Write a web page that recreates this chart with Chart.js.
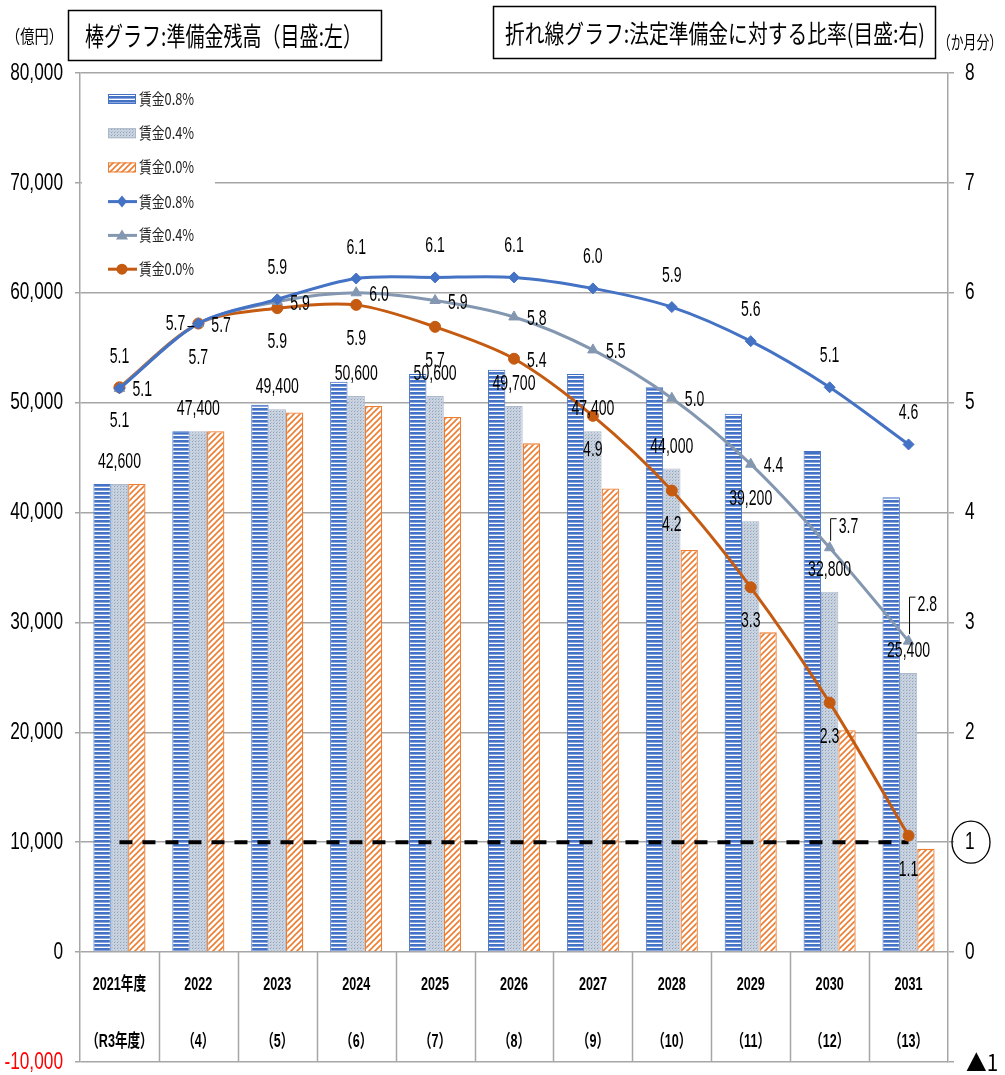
<!DOCTYPE html>
<html>
<head>
<meta charset="utf-8">
<script src="https://cdn.jsdelivr.net/npm/chart.js@4.4.1/dist/chart.umd.min.js"></script>
<style>
  html, body { margin: 0; padding: 0; background: #fff; }
</style>
</head>
<body>
<canvas id="reserveChart" width="1005" height="1075"></canvas>
<script>
const NUM = "'Liberation Sans', 'Noto Sans CJK JP', sans-serif";
const JP = "'Noto Sans CJK JP', sans-serif";

// データ
const categories = ['2021年度', '2022', '2023', '2024', '2025', '2026', '2027', '2028', '2029', '2030', '2031'];
const subLabels = ['（R3年度）', '（4）', '（5）', '（6）', '（7）', '（8）', '（9）', '（10）', '（11）', '（12）', '（13）'];
const seriesNames = ['賃金0.8%', '賃金0.4%', '賃金0.0%'];

// 準備金残高（億円）
const reserve08 = [42600, 47400, 49800, 51900, 52600, 53000, 52600, 51400, 49000, 45600, 41400];
const reserve04 = [42600, 47400, 49400, 50600, 50600, 49700, 47400, 44000, 39200, 32800, 25400];
const reserve00 = [42600, 47400, 49100, 49700, 48700, 46300, 42200, 36600, 29100, 20200, 9400];

// 法定準備金に対する比率（か月分）
const ratio08 = [5.13, 5.72, 5.94, 6.13, 6.14, 6.14, 6.04, 5.87, 5.56, 5.14, 4.62];
const ratio04 = [5.13, 5.72, 5.92, 6.00, 5.93, 5.78, 5.48, 5.04, 4.44, 3.68, 2.83];
const ratio00 = [5.14, 5.72, 5.86, 5.89, 5.69, 5.40, 4.88, 4.20, 3.32, 2.27, 1.06];
const legalMinimum = [1, 1, 1, 1, 1, 1, 1, 1, 1, 1, 1];

// 目盛
const leftMin = -10000, leftMax = 80000, leftStep = 10000;
const rightMin = -1, rightMax = 8, rightStep = 1;

// ラベルの置き場所 (t:上 b:下 r:右 l:左 q:右上に引出線)
const labelPos08 = ['t', 'l', 't', 't', 't', 't', 't', 't', 't', 't', 't'];
const labelPos04 = ['r', 'r', 'r', 'r', 'r', 'r', 'r', 'r', 'r', 'q', 'q'];
const labelPos00 = ['b', 'b', 'b', 'b', 'b', 'r', 'b', 'b', 'b', 'b', 'b'];
const leaderLift04 = [0, 0, 0, 0, 0, 0, 0, 0, 0, 17, 32];

const BLUE = '#4472C4', GRAY = '#8497B0', ORANGE = '#C55A11';

function makePattern(kind) {
    const c = document.createElement('canvas');
    const g = c.getContext('2d');
    if (kind === 'stripes') {
        c.width = 4; c.height = 4;
        g.fillStyle = '#fff'; g.fillRect(0, 0, 4, 4);
        g.fillStyle = '#4472C4'; g.fillRect(0, 0, 4, 2);
        g.fillStyle = '#8AA6DC'; g.fillRect(0, 2, 4, 1);
    } else if (kind === 'dots') {
        c.width = 3; c.height = 3;
        g.fillStyle = '#C9D2DF'; g.fillRect(0, 0, 3, 3);
        g.fillStyle = '#8FA1BA'; g.fillRect(0, 0, 1, 1);
        g.fillStyle = '#B0BCCE'; g.fillRect(1, 2, 1, 1);
    } else {
        c.width = 6; c.height = 6;
        g.fillStyle = '#fff'; g.fillRect(0, 0, 6, 6);
        g.strokeStyle = '#ED7D31'; g.lineWidth = 1.6;
        g.beginPath();
        g.moveTo(0, 6); g.lineTo(6, 0);
        g.moveTo(-1, 1); g.lineTo(1, -1);
        g.moveTo(5, 7); g.lineTo(7, 5);
        g.stroke();
    }
    return g.createPattern(c, 'repeat');
}
const fill08 = makePattern('stripes');
const fill04 = makePattern('dots');
const fill00 = makePattern('hatch');

function drawText(ctx, text, x, y, font, align, sx, color) {
    ctx.save();
    ctx.font = font;
    ctx.fillStyle = color || '#000';
    ctx.textAlign = align;
    ctx.textBaseline = 'middle';
    ctx.translate(x, y);
    ctx.scale(sx, 1);
    ctx.fillText(text, 0, 0);
    ctx.restore();
}

// 幅に合わせて横に詰めた文字
function fitText(ctx, text, x1, x2, y, font) {
    ctx.save();
    ctx.font = font;
    const w = ctx.measureText(text).width;
    ctx.restore();
    drawText(ctx, text, x1, y, font, 'left', (x2 - x1) / w);
}

const legendBox = {
    id: 'legendBox',
    beforeDatasetsDraw(chart) {
        const ctx = chart.ctx;
        ctx.save();
        ctx.fillStyle = '#fff';
        ctx.fillRect(82, 82, 133, 202);
        const fills = [fill08, fill04, fill00];
        const borders = [BLUE, '#ADB9CA', '#ED7D31'];
        const lines = [BLUE, GRAY, ORANGE];
        const font = '16px ' + JP;
        for (let i = 0; i < 3; i++) {
            const cy = 99 + i * 34.2;
            ctx.fillStyle = fills[i];
            ctx.fillRect(108, cy - 5, 28, 10);
            ctx.strokeStyle = borders[i];
            ctx.lineWidth = 1;
            ctx.strokeRect(108.5, cy - 4.5, 27, 9);
            drawText(ctx, seriesNames[i], 139, cy, font, 'left', 0.8, '#222');
        }
        for (let i = 0; i < 3; i++) {
            const cy = 201.6 + i * 33.8;
            ctx.strokeStyle = lines[i];
            ctx.fillStyle = lines[i];
            ctx.lineWidth = 3;
            ctx.beginPath(); ctx.moveTo(108, cy); ctx.lineTo(137, cy); ctx.stroke();
            ctx.beginPath();
            if (i === 0) {
                ctx.moveTo(122, cy - 6); ctx.lineTo(127, cy); ctx.lineTo(122, cy + 6); ctx.lineTo(117, cy);
            } else if (i === 1) {
                ctx.moveTo(122, cy - 6); ctx.lineTo(128, cy + 4); ctx.lineTo(116, cy + 4);
            } else {
                ctx.arc(122, cy, 5.5, 0, Math.PI * 2);
            }
            ctx.closePath(); ctx.fill();
            drawText(ctx, seriesNames[i], 139, cy, font, 'left', 0.8, '#222');
        }
        ctx.restore();
    }
};

// 目盛の数字（縦長の字形に詰めて描く）
const axisLabels = {
    id: 'axisLabels',
    afterDraw(chart) {
        const ctx = chart.ctx;
        const yl = chart.scales.yl, yr = chart.scales.yr;
        const font = '24px ' + NUM;
        yl.ticks.forEach(t => {
            const y = yl.getPixelForValue(t.value);
            drawText(ctx, t.value.toLocaleString('en-US'), 63, y, font, 'right', 0.72, t.value < 0 ? '#FF0000' : '#000');
        });
        yr.ticks.forEach(t => {
            const y = yr.getPixelForValue(t.value);
            if (t.value < 0) {
                drawText(ctx, '▲' + Math.abs(t.value), 966, y, '23px ' + JP, 'left', 0.9);
            } else {
                drawText(ctx, String(t.value), 965, y, font, 'left', 0.72);
            }
        });
        // 右目盛の「1」を丸で囲む
        const y1 = yr.getPixelForValue(1);
        ctx.save();
        ctx.strokeStyle = '#000';
        ctx.lineWidth = 1.3;
        ctx.beginPath();
        ctx.ellipse(971, y1, 19, 21, 0, 0, Math.PI * 2);
        ctx.stroke();
        ctx.restore();
    }
};

const categoryTable = {
    id: 'categoryTable',
    afterDraw(chart) {
        const ctx = chart.ctx, area = chart.chartArea;
        const x = chart.scales.x, yl = chart.scales.yl;
        const y0 = yl.getPixelForValue(0);
        const w = (area.right - area.left) / categories.length;
        ctx.save();
        ctx.strokeStyle = '#A6A6A6';
        ctx.lineWidth = 1.5;
        for (let i = 1; i < categories.length; i++) {
            const bx = Math.round(area.left + i * w) + 0.5;
            ctx.beginPath(); ctx.moveTo(bx, y0); ctx.lineTo(bx, area.bottom); ctx.stroke();
        }
        const font = 'bold 18px ' + NUM;
        categories.forEach((c, i) => {
            const cx = x.getPixelForValue(i);
            drawText(ctx, c, cx, y0 + 33, font, 'center', 0.7);
            drawText(ctx, subLabels[i], cx, y0 + 90, font, 'center', 0.7);
        });
        ctx.restore();
    }
};

const valueLabels = {
    id: 'valueLabels',
    afterDatasetsDraw(chart) {
        const ctx = chart.ctx;
        const font = '22px ' + NUM;
        const sx = 0.64;
        ctx.save();
        // 棒グラフ（賃金0.4%）の数値
        chart.getDatasetMeta(5).data.forEach((bar, i) => {
            drawText(ctx, reserve04[i].toLocaleString('en-US'), bar.x, bar.y - 22, font, 'center', sx);
        });
        const sets = [[0, ratio08, labelPos08], [1, ratio04, labelPos04], [2, ratio00, labelPos00]];
        sets.forEach(([idx, values, pos]) => {
            chart.getDatasetMeta(idx).data.forEach((pt, i) => {
                const t = values[i].toFixed(1);
                const p = pos[i];
                ctx.strokeStyle = '#000';
                ctx.lineWidth = 1;
                if (p === 't') drawText(ctx, t, pt.x, pt.y - 31, font, 'center', sx);
                else if (p === 'b') drawText(ctx, t, pt.x, pt.y + 34, font, 'center', sx);
                else if (p === 'r') drawText(ctx, t, pt.x + 13, pt.y + 2, font, 'left', sx);
                else if (p === 'l') {
                    drawText(ctx, t, pt.x - 13, pt.y, font, 'right', sx);
                    ctx.beginPath(); ctx.moveTo(pt.x - 11, pt.y + 3); ctx.lineTo(pt.x - 4, pt.y + 3); ctx.stroke();
                } else if (p === 'q') {
                    const ly = pt.y - leaderLift04[i] - 6;
                    ctx.beginPath();
                    ctx.moveTo(pt.x + 1, pt.y - 7); ctx.lineTo(pt.x + 1, ly - 6); ctx.lineTo(pt.x + 7, ly - 6);
                    ctx.stroke();
                    drawText(ctx, t, pt.x + 9, ly + 2, font, 'left', sx);
                }
            });
        });
        ctx.restore();
    }
};

const headings = {
    id: 'headings',
    afterDraw(chart) {
        const ctx = chart.ctx;
        ctx.save();
        ctx.strokeStyle = '#000';
        ctx.lineWidth = 1.5;
        ctx.strokeRect(68.5, 10.5, 313, 50);
        ctx.strokeRect(493.5, 6.5, 442, 52);
        fitText(ctx, '棒グラフ:準備金残高（目盛:左）', 85, 362, 36, '26px ' + JP);
        fitText(ctx, '折れ線グラフ:法定準備金に対する比率(目盛:右)', 505, 925, 33, '25px ' + JP);
        fitText(ctx, '（億円）', 6, 63, 36, '18px ' + JP);
        fitText(ctx, '（か月分）', 938, 1002, 42, '18px ' + JP);
        ctx.restore();
    }
};

const ctx = document.getElementById('reserveChart').getContext('2d');

new Chart(ctx, {
    type: 'bar',
    data: {
        labels: categories,
        datasets: [
            {
                type: 'line', label: seriesNames[0], data: ratio08, yAxisID: 'yr',
                borderColor: BLUE, backgroundColor: BLUE, borderWidth: 3,
                pointStyle: 'rectRot', pointRadius: 5.5, pointBorderWidth: 1,
                tension: 0.3, order: 1
            },
            {
                type: 'line', label: seriesNames[1], data: ratio04, yAxisID: 'yr',
                borderColor: GRAY, backgroundColor: GRAY, borderWidth: 3,
                pointStyle: 'triangle', pointRadius: 6, pointBorderWidth: 1,
                tension: 0.3, order: 1
            },
            {
                type: 'line', label: seriesNames[2], data: ratio00, yAxisID: 'yr',
                borderColor: ORANGE, backgroundColor: ORANGE, borderWidth: 3,
                pointStyle: 'circle', pointRadius: 5.5, pointBorderWidth: 1,
                tension: 0.3, order: 1
            },
            {
                type: 'line', label: '法定準備金', data: legalMinimum, yAxisID: 'yr',
                borderColor: '#000', borderWidth: 4, borderDash: [13, 10],
                pointRadius: 0, order: 2
            },
            {
                label: seriesNames[0], data: reserve08, yAxisID: 'yl',
                backgroundColor: fill08, borderColor: BLUE, borderWidth: 1, order: 10
            },
            {
                label: seriesNames[1], data: reserve04, yAxisID: 'yl',
                backgroundColor: fill04, borderColor: '#ADB9CA', borderWidth: 1, order: 10
            },
            {
                label: seriesNames[2], data: reserve00, yAxisID: 'yl',
                backgroundColor: fill00, borderColor: '#ED7D31', borderWidth: 1.3, order: 10
            }
        ]
    },
    options: {
        responsive: false,
        animation: false,
        devicePixelRatio: 1,
        layout: { padding: { top: 73, bottom: 13, left: 0, right: 0 } },
        datasets: { bar: { categoryPercentage: 0.66, barPercentage: 1.0 } },
        plugins: { legend: { display: false }, tooltip: { enabled: false } },
        scales: {
            x: { display: false, offset: true },
            yl: {
                position: 'left', min: leftMin, max: leftMax,
                afterFit(s) { s.width = 80; },
                ticks: { stepSize: leftStep, display: false },
                grid: { color: '#A6A6A6', lineWidth: 1.5, tickLength: 5 },
                border: { color: '#A6A6A6', width: 1.5 }
            },
            yr: {
                position: 'right', min: rightMin, max: rightMax,
                afterFit(s) { s.width = 57; },
                ticks: { stepSize: rightStep, display: false },
                grid: { drawOnChartArea: false, color: '#A6A6A6', lineWidth: 1.5, tickLength: 6 },
                border: { color: '#A6A6A6', width: 1.5 }
            }
        }
    },
    plugins: [legendBox, categoryTable, valueLabels, axisLabels, headings]
});
</script>
</body>
</html>
